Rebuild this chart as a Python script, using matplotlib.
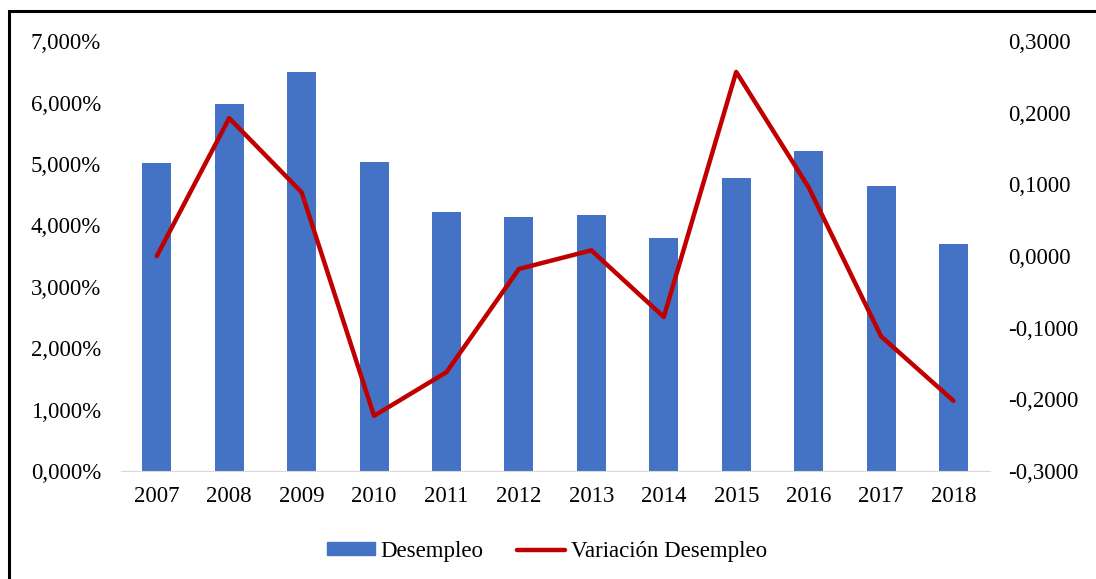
import matplotlib
matplotlib.use("Agg")
import matplotlib.pyplot as plt
from matplotlib.ticker import FuncFormatter
from matplotlib.patches import Rectangle
from matplotlib.lines import Line2D

years = ["2007", "2008", "2009", "2010", "2011", "2012", "2013", "2014", "2015", "2016", "2017", "2018"]
desempleo = [5.02, 5.98, 6.50, 5.03, 4.22, 4.14, 4.17, 3.79, 4.77, 5.21, 4.64, 3.70]
variacion = [0.000, 0.1925, 0.089, -0.223, -0.162, -0.018, 0.008, -0.085, 0.257, 0.096, -0.112, -0.202]

plt.rcParams['font.family'] = ['Liberation Serif', 'DejaVu Serif']
FS = 16.5

fig = plt.figure(figsize=(10.96, 5.79), dpi=100)
ax = fig.add_axes([0.110, 0.1865, 0.793, 0.7425])
x = list(range(len(years)))
ax.bar(x, desempleo, width=0.4, color="#4472C4", zorder=2)
ax.set_ylim(0, 7)
ax.set_yticks([0, 1, 2, 3, 4, 5, 6, 7])
ax.yaxis.set_major_formatter(FuncFormatter(lambda v, p: f"{v:,.3f}%".replace(".", ",")))
ax.set_xlim(-0.5, len(years) - 0.5)
ax.set_xticks(x)
ax.set_xticklabels(years)
for s in ["top", "right", "left"]:
    ax.spines[s].set_visible(False)
ax.spines["bottom"].set_color("#D9D9D9")
ax.tick_params(axis="both", length=0, labelsize=FS, colors="#000000")
ax.tick_params(axis="y", pad=14)
ax.tick_params(axis="x", pad=11)

ax2 = ax.twinx()
ax2.plot(x, variacion, color="#C00000", linewidth=3.2, solid_joinstyle="round", solid_capstyle="round", zorder=3)
ax2.set_ylim(-0.3, 0.3)
ax2.set_yticks([-0.3, -0.2, -0.1, 0.0, 0.1, 0.2, 0.3])
ax2.yaxis.set_major_formatter(FuncFormatter(lambda v, p: (f"{v:.4f}".replace(".", ",")).replace("-0,0000", "0,0000")))
for s in ["top", "right", "left", "bottom"]:
    ax2.spines[s].set_visible(False)
ax2.tick_params(axis="y", length=0, labelsize=FS, pad=13)

handles = [Rectangle((0, 0), 1, 1, color="#4472C4"),
           Line2D([0], [0], color="#C00000", linewidth=3.2, solid_capstyle="round")]
fig.legend(handles, ["Desempleo", "Variación Desempleo"], loc="center", bbox_to_anchor=(0.499, 0.048),
           ncol=2, frameon=False, fontsize=FS, handlelength=2.1, handleheight=0.45, columnspacing=1.45, handletextpad=0.25)

fig.patches.append(Rectangle((9 / 1096, -0.05), 1.1, 1 - 11 / 579 + 0.05, transform=fig.transFigure,
                             fill=False, edgecolor="black", linewidth=2.2, zorder=10))

fig.savefig("out.png", dpi=100)
